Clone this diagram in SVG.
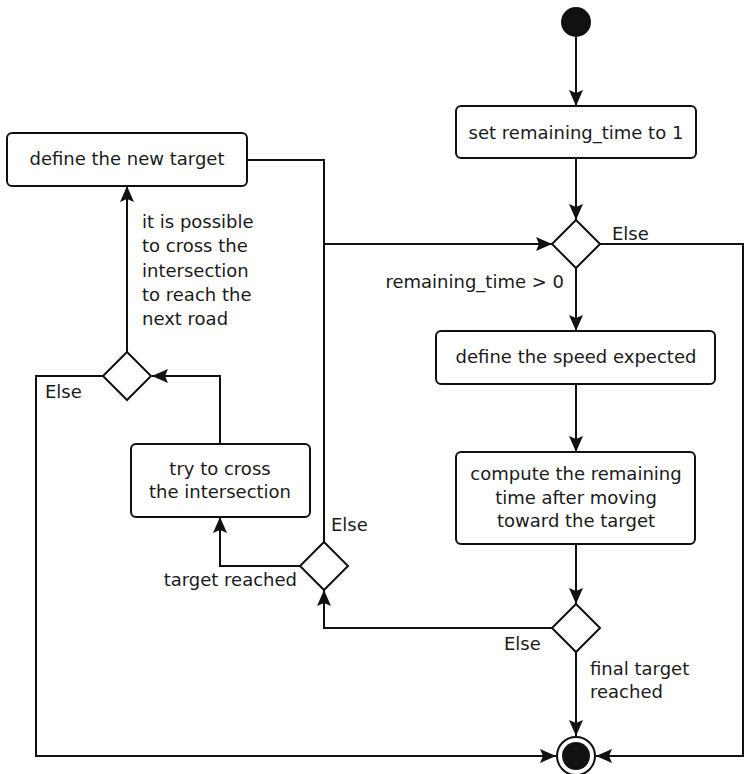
<svg xmlns="http://www.w3.org/2000/svg" width="745" height="774" viewBox="0 0 745 774">
<defs>
<marker id="arr" markerUnits="userSpaceOnUse" markerWidth="16" markerHeight="14" refX="16" refY="7" orient="auto">
<path d="M0,0 L16,7 L0,14 L3,7 z" fill="#111"/>
</marker>
<style>
.box{fill:#fff;stroke:#111;stroke-width:2}
.dia{fill:#fff;stroke:#111;stroke-width:2}
.ln{fill:none;stroke:#111;stroke-width:2;marker-end:url(#arr)}
.pl{fill:none;stroke:#111;stroke-width:2}
text{font-family:"DejaVu Sans",Verdana,sans-serif;font-size:18px;fill:#1a1a1a}
.c{text-anchor:middle}
.r{text-anchor:end}
</style>
</defs>
<rect width="745" height="774" fill="#fff"/>
<g id="connectors">
<path class="ln" d="M576,37 V106"/>
<path class="ln" d="M576,158 V220"/>
<path class="ln" d="M576,268 V331"/>
<path class="ln" d="M576,384 V452"/>
<path class="ln" d="M576,544 V604"/>
<path class="ln" d="M576,652 V736"/>
<path class="ln" d="M600,244 H743 V756 H596"/>
<path class="ln" d="M103,376 H36 V756 H556"/>
<path class="ln" d="M552,628 H324 V590"/>
<path class="ln" d="M301,566 H220 V517"/>
<path class="ln" d="M220,444 V376 H152"/>
<path class="ln" d="M127,352 V186"/>
<path class="ln" d="M247,160 H324 V244 H552"/>
<path class="pl" d="M324,542 V244"/>
</g>
<g id="start"><circle cx="576" cy="22" r="15" fill="#111"/></g>
<g id="set_time"><rect class="box" x="456" y="106" width="240" height="52" rx="5"/><text class="c" x="576" y="139">set remaining_time to 1</text></g>
<g id="dec1"><path class="dia" d="M576,220 L600,244 L576,268 L552,244 z"/>
<text x="612" y="240">Else</text>
<text class="r" x="564" y="288">remaining_time &gt; 0</text></g>
<g id="speed"><rect class="box" x="436" y="331" width="279" height="53" rx="5"/><text class="c" x="576" y="363">define the speed expected</text></g>
<g id="compute"><rect class="box" x="456" y="452" width="239" height="92" rx="5"/>
<text class="c" x="576" y="480">compute the remaining</text>
<text class="c" x="576" y="504">time after moving</text>
<text class="c" x="576" y="527">toward the target</text></g>
<g id="dec4"><path class="dia" d="M576,604 L600,628 L576,652 L552,628 z"/>
<text x="504" y="650">Else</text>
<text x="590" y="675">final target</text>
<text x="590" y="698">reached</text></g>
<g id="end"><circle cx="576" cy="756" r="19" fill="#fff" stroke="#111" stroke-width="2"/><circle cx="576" cy="756" r="14" fill="#111"/></g>
<g id="dec3"><path class="dia" d="M324,542 L348,566 L324,590 L300,566 z"/>
<text x="331" y="531">Else</text>
<text class="r" x="297" y="586">target reached</text></g>
<g id="cross"><rect class="box" x="131" y="444" width="179" height="73" rx="5"/>
<text class="c" x="220" y="475">try to cross</text>
<text class="c" x="220" y="498">the intersection</text></g>
<g id="dec2"><path class="dia" d="M127,352 L151,376 L127,400 L103,376 z"/>
<text x="45" y="398">Else</text></g>
<g id="newtarget"><rect class="box" x="7" y="133" width="240" height="53" rx="5"/><text class="c" x="127" y="165">define the new target</text></g>
<g id="guard">
<text x="142" y="228">it is possible</text>
<text x="142" y="252">to cross the</text>
<text x="142" y="277">intersection</text>
<text x="142" y="301">to reach the</text>
<text x="142" y="325">next road</text>
</g>
</svg>
